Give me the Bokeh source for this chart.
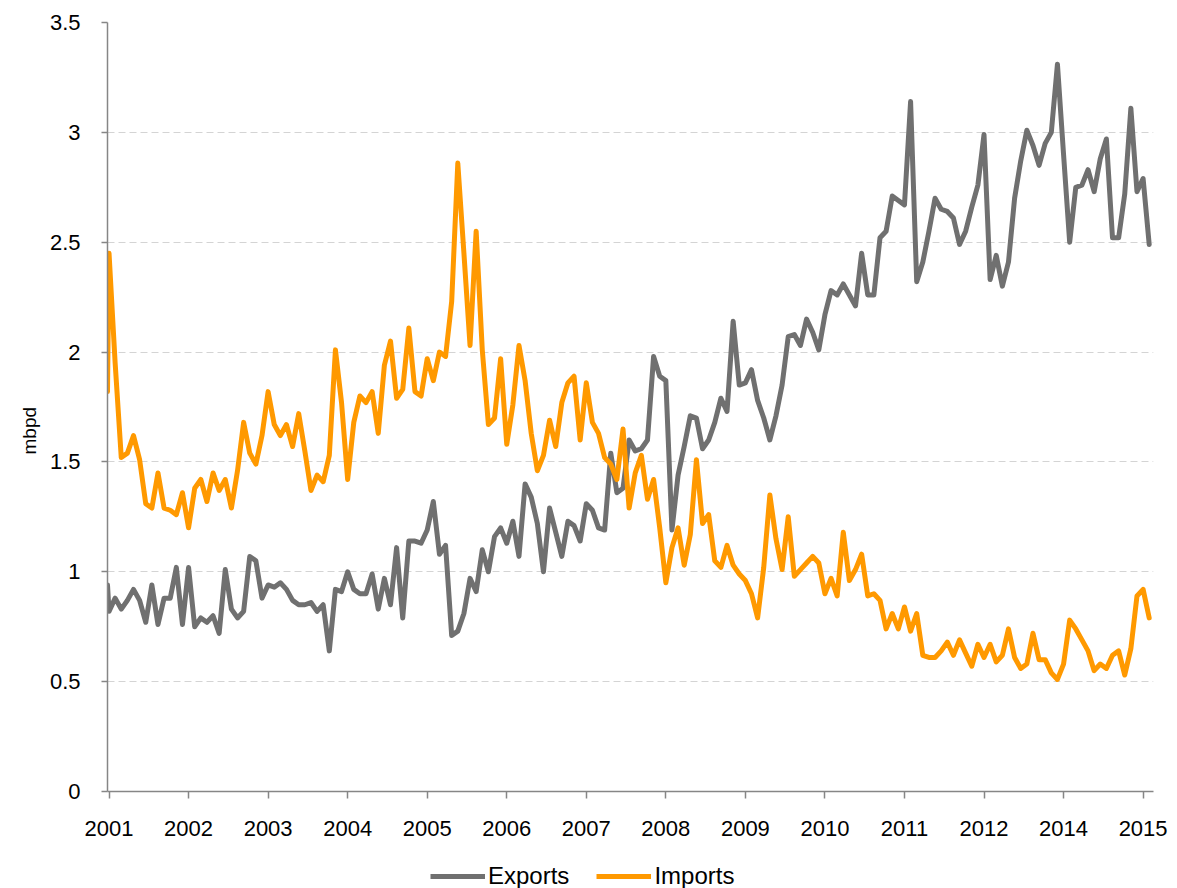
from bokeh.plotting import figure
from bokeh.layouts import column
from bokeh.models import FixedTicker, Legend, LegendItem, Range1d
from bokeh.embed import file_html
from bokeh.resources import INLINE

# Monthly series, Jan 2001 - Mar 2015 (first entry is the opening observation)
exports = [0.94,
    0.82, 0.88, 0.83, 0.87, 0.92, 0.87, 0.77, 0.94, 0.76, 0.88, 0.88, 1.02,
    0.76, 1.02, 0.75, 0.79, 0.77, 0.80, 0.72, 1.01, 0.83, 0.79, 0.82, 1.07,
    1.05, 0.88, 0.94, 0.93, 0.95, 0.92, 0.87, 0.85, 0.85, 0.86, 0.82, 0.85,
    0.64, 0.92, 0.91, 1.00, 0.92, 0.90, 0.90, 0.99, 0.83, 0.97, 0.85, 1.11,
    0.79, 1.14, 1.14, 1.13, 1.19, 1.32, 1.08, 1.12, 0.71, 0.73, 0.81, 0.97,
    0.91, 1.10, 1.00, 1.16, 1.20, 1.13, 1.23, 1.07, 1.40, 1.34, 1.22, 1.00,
    1.29, 1.18, 1.07, 1.23, 1.21, 1.14, 1.31, 1.28, 1.20, 1.19, 1.54, 1.36,
    1.38, 1.60, 1.55, 1.56, 1.60, 1.98, 1.89, 1.87, 1.19, 1.44, 1.57, 1.71,
    1.70, 1.56, 1.60, 1.68, 1.79, 1.73, 2.14, 1.85, 1.86, 1.92, 1.78, 1.70,
    1.60, 1.71, 1.85, 2.07, 2.08, 2.03, 2.15, 2.09, 2.01, 2.17, 2.28, 2.26,
    2.31, 2.26, 2.21, 2.45, 2.26, 2.26, 2.52, 2.55, 2.71, 2.69, 2.67, 3.14,
    2.32, 2.41, 2.55, 2.70, 2.65, 2.64, 2.61, 2.49, 2.55, 2.66, 2.76, 2.99,
    2.33, 2.44, 2.30, 2.41, 2.70, 2.87, 3.01, 2.94, 2.85, 2.95, 3.00, 3.31,
    2.90, 2.50, 2.75, 2.76, 2.83, 2.73, 2.88, 2.97, 2.52, 2.52, 2.72, 3.11,
    2.73, 2.79, 2.49]

imports = [1.82,
    2.45, 1.95, 1.52, 1.54, 1.62, 1.51, 1.31, 1.29, 1.45, 1.29, 1.28, 1.26,
    1.36, 1.20, 1.38, 1.42, 1.32, 1.45, 1.37, 1.42, 1.29, 1.46, 1.68, 1.54,
    1.49, 1.62, 1.82, 1.67, 1.62, 1.67, 1.57, 1.72, 1.55, 1.37, 1.44, 1.41,
    1.53, 2.01, 1.77, 1.42, 1.68, 1.80, 1.77, 1.82, 1.63, 1.94, 2.05, 1.79,
    1.83, 2.11, 1.82, 1.80, 1.97, 1.87, 2.00, 1.98, 2.23, 2.86, 2.45, 2.03,
    2.55, 2.01, 1.67, 1.70, 1.97, 1.58, 1.76, 2.03, 1.87, 1.63, 1.46, 1.53,
    1.69, 1.57, 1.77, 1.86, 1.89, 1.60, 1.86, 1.68, 1.63, 1.52, 1.49, 1.42,
    1.65, 1.29, 1.45, 1.53, 1.33, 1.42, 1.20, 0.95, 1.11, 1.20, 1.03, 1.17,
    1.51, 1.22, 1.26, 1.05, 1.02, 1.12, 1.03, 0.99, 0.96, 0.90, 0.79, 1.02,
    1.35, 1.15, 1.01, 1.25, 0.98, 1.01, 1.04, 1.07, 1.04, 0.90, 0.97, 0.89,
    1.18, 0.96, 1.01, 1.08, 0.89, 0.90, 0.87, 0.74, 0.81, 0.74, 0.84, 0.73,
    0.81, 0.62, 0.61, 0.61, 0.64, 0.68, 0.62, 0.69, 0.63, 0.57, 0.67, 0.61,
    0.67, 0.59, 0.62, 0.74, 0.61, 0.56, 0.58, 0.72, 0.60, 0.60, 0.54, 0.51,
    0.58, 0.78, 0.74, 0.69, 0.64, 0.55, 0.58, 0.56, 0.62, 0.64, 0.53, 0.65,
    0.89, 0.92, 0.79]

month_index = [-0.25] + list(range(len(exports) - 1))

year_labels = ["2001", "2002", "2003", "2004", "2005", "2006", "2007",
               "2008", "2009", "2010", "2011", "2012", "2014", "2015"]
label_every = 13
tick_months = [i * label_every for i in range(len(year_labels))]

y_ticks = [0, 0.5, 1, 1.5, 2, 2.5, 3, 3.5]
y_labels = ["0", "0.5", "1", "1.5", "2", "2.5", "3", "3.5"]

series_names = ["Exports", "Imports"]
series_values = [exports, imports]
series_colors = ["#707070", "#ff9900"]

FONT = "Liberation Sans"
AXIS_COLOR = "#868686"
LINE_W = 5

x_rng = Range1d(-0.25, 170.7)

p = figure(width=1177, height=850, output_backend="svg", toolbar_location=None,
           x_range=x_rng, y_range=Range1d(0, 3.5),
           min_border_left=107, min_border_right=24, min_border_top=22,
           min_border_bottom=59)
p.outline_line_color = None
p.background_fill_color = "white"
p.border_fill_color = "white"

p.xgrid.visible = False
p.ygrid.ticker = FixedTicker(ticks=y_ticks)
p.ygrid.grid_line_color = "#d4d4d4"
p.ygrid.grid_line_dash = "7 4"
p.ygrid.grid_line_width = 1

p.xaxis.ticker = FixedTicker(ticks=tick_months)
p.xaxis.major_label_overrides = {t: l for t, l in zip(tick_months, year_labels)}
p.yaxis.ticker = FixedTicker(ticks=y_ticks)
p.yaxis.major_label_overrides = {t: l for t, l in zip(y_ticks, y_labels)}

for ax in (p.xaxis, p.yaxis):
    ax.axis_line_color = AXIS_COLOR
    ax.axis_line_width = 1.5
    ax.major_tick_line_color = AXIS_COLOR
    ax.major_tick_line_width = 1.5
    ax.minor_tick_line_color = None
    ax.major_tick_in = 0
    ax.major_label_text_font = FONT
    ax.major_label_text_font_size = "22px"
    ax.major_label_text_color = "black"

p.xaxis.major_tick_out = 7
p.xaxis.major_label_standoff = 22
p.yaxis.major_tick_out = 6
p.yaxis.major_label_standoff = 21

# trailing no-break spaces move the title a little below the axis centre
p.yaxis.axis_label = "mbpd" + "\u00a0" * 9
p.yaxis.axis_label_text_font = FONT
p.yaxis.axis_label_text_font_size = "19px"
p.yaxis.axis_label_text_font_style = "normal"
p.yaxis.axis_label_text_color = "black"
p.yaxis.axis_label_standoff = 7

for vals, color in zip(series_values, series_colors):
    p.line(month_index, vals, line_color=color, line_width=LINE_W,
           line_join="round", line_cap="round")

# legend strip below the chart (its copies of the series lie outside its view)
leg = figure(width=1177, height=38, output_backend="svg", toolbar_location=None,
             x_range=x_rng, y_range=Range1d(10, 11),
             x_axis_type=None, y_axis_type=None,
             min_border_left=0, min_border_right=0, min_border_top=0,
             min_border_bottom=0)
leg.outline_line_color = None
leg.xgrid.visible = False
leg.ygrid.visible = False
leg.border_fill_color = "white"
items = []
for name, vals, color in zip(series_names, series_values, series_colors):
    r = leg.line(month_index, vals, line_color=color, line_width=LINE_W)
    items.append(LegendItem(label=name, renderers=[r]))

legend = Legend(items=items, orientation="horizontal", location=(323, -2),
                border_line_color=None, background_fill_alpha=0,
                padding=0, margin=0, spacing=27, label_standoff=3,
                glyph_width=55, glyph_height=22, label_height=22,
                label_text_font=FONT, label_text_font_size="24px",
                label_text_color="black")
leg.add_layout(legend, "center")

layout = column(p, leg, spacing=0)
open("out.html", "w").write(file_html(layout, INLINE))
